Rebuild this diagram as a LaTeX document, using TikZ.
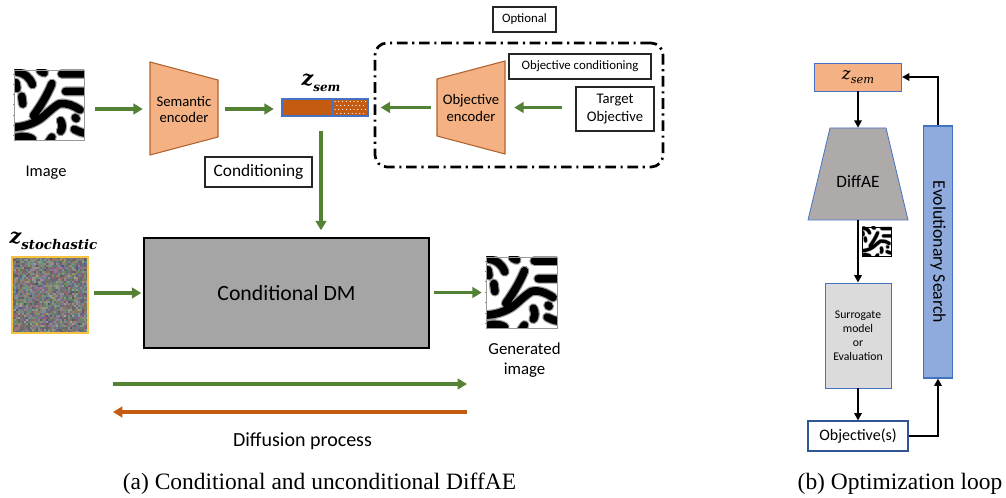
\documentclass[tikz,border=0pt]{standalone}
\usepackage{fontspec}
\setmainfont{Carlito}
\newfontfamily\capfont{Liberation Serif}
\newfontfamily\zfont{DejaVu Serif}
\usetikzlibrary{arrows.meta,calc}
\newdimen\pxu \pxu=0.75pt
\newcommand\fsz[2]{\fontsize{#1}{#2}\selectfont}
\newcommand\zbold[3]{{\zfont\bfseries\itshape\fontsize{#1}{#1}\selectfont z\raisebox{-0.28em}{\fontsize{#2}{#2}\selectfont #3}}}
\newcommand\zplain[3]{{\zfont\itshape\fontsize{#1}{#1}\selectfont z\raisebox{-0.28em}{\fontsize{#2}{#2}\selectfont #3}}}
\definecolor{grn}{HTML}{548235}
\definecolor{org}{HTML}{C55A11}
\definecolor{peach}{HTML}{F4B183}
\definecolor{encbd}{HTML}{B0622E}
\definecolor{dmgray}{HTML}{A5A5A5}
\definecolor{degray}{HTML}{AEAAAA}
\definecolor{sgray}{HTML}{DBDBDB}
\definecolor{evo}{HTML}{8FAADC}
\definecolor{bluebd}{HTML}{4472C4}
\definecolor{navy}{HTML}{2F5597}
\definecolor{noiseb}{HTML}{F5C242}

% Turing-like pattern, #1,#2 top-left, #3 size
\newcommand\turpaths{%
  (3,2) .. controls (10,3) and (16,7) .. (19,15)
  (27,1) -- (31,3)
  (49,4) -- (75,4)
  (2,13) -- (3,19)
  (39,14) .. controls (34,26) and (28,36) .. (20,47)
  (53,22) -- (75,22)
  (8,27) -- (9,35)
  (-3,59) .. controls (8,59) and (18,56) .. (26,51) .. controls (32,47) and (38,40) .. (46,35) .. controls (54,33) and (62,37) .. (68,41)
  (35,75) -- (39,69)
  (62,61) .. controls (66,63) and (70,65) .. (75,65)
  (-3,71) .. controls (5,68) and (12,67) .. (19,71)
  (63,49) -- (64,50)
  (48,52) .. controls (50,56) and (50,60) .. (48,63)}
\newcommand\turing[3]{%
  \pgfmathsetmacro\tlw{#3/72*7.8*0.75}%
  \pgfmathsetmacro\tlb{#3/72*10.2*0.75}%
  \begin{scope}[shift={(#1,#2)}, scale=#3/72]
    \fill[white] (0,0) rectangle (72,72);
    \begin{scope}
      \clip (0,0) rectangle (72,72);
      \draw[line width=\tlb pt, line cap=round, line join=round, black!40] \turpaths;
      \draw[line width=\tlw pt, line cap=round, line join=round, black] \turpaths;
    \end{scope}
  \end{scope}}
\newcommand\ticks[3]{%
  \begin{scope}[shift={(#1,#2)}, scale=#3/72]
    \draw[black!40, line width=0.3pt] (0,0) rectangle (72,72);
    \foreach \k in {0,...,6} {
      \draw[black!45, line width=0.3pt] (0,4+\k*10.5) -- (-1.5,4+\k*10.5);
      \draw[black!45, line width=0.3pt] (\k*11.5,72) -- (\k*11.5,73.5);
    }
  \end{scope}}

\begin{document}
\begin{tikzpicture}[x=0.75pt,y=-0.75pt,
  lbl/.style={inner sep=0pt, text=black, align=center},
  obox/.style={draw=black!85, line width=1.1pt, fill=white, inner sep=0pt, align=center},
  garrow/.style={draw=grn, line width=2.3pt, -{Triangle[length=7pt,width=8pt]}},
  oarrow/.style={draw=org, line width=2.3pt, -{Triangle[length=7pt,width=8pt]}},
  karrow/.style={draw=black, line width=1.5pt, -{Triangle[length=5.5pt,width=5.5pt]}},
  sizedbox/.style 2 args={minimum width=#1\pxu, minimum height=#2\pxu, inner sep=0pt},
]
\useasboundingbox (0,0) rectangle (1006,498);

% ---------------- panel (a) ----------------
% input image
\turing{14}{70}{70}
\ticks{14}{70}{70}
\node[sizedbox={70}{70}] (img1) at (49,105) {};
\node[lbl, font=\fsz{12.3}{14}] (imglbl) at (46,173) {Image};

% semantic encoder
\filldraw[fill=peach, draw=encbd, line width=0.8pt] (150,62) -- (218,80) -- (218,137) -- (150,155) -- cycle;
\node[lbl, sizedbox={68}{93}, font=\fsz{11}{12}] (se) at (184,109) {Semantic\\encoder};

% z_sem bar
\fill[org] (282,99) rectangle (333,116);
\fill[org] (333,99) rectangle (368,116);
\foreach \i in {0,...,8} \foreach \j in {0,...,3} {
  \pgfmathsetmacro\dotoff{mod(\j,2)*2}
  \fill[white] (335+\i*3.8+\dotoff,101.5+\j*4) circle (0.6);
}
\draw[bluebd, line width=0.8pt] (282,99) rectangle (368,116) (333,99) -- (333,116);
\node[sizedbox={86}{17}] (zsem) at (325,107.5) {};
\node[lbl] (zsemlbl) at (321,83) {\zbold{15.5}{9}{sem}};

% arrows into / out of encoder
\draw[garrow] ([xshift=11\pxu]img1.east |- se.west) -- ([xshift=-7\pxu]se.west);
\draw[garrow] ([xshift=7\pxu]se.east) -- ([xshift=-8\pxu]se.east -| zsem.west);

% conditioning label
\node[obox, sizedbox={107}{30}, font=\fsz{13}{15}] (cond) at (258.5,172) {Conditioning};

% optional block
\node[obox, sizedbox={63}{25}, font=\fsz{9.6}{11}] (opt) at (524.5,19.5) {Optional};
\node[draw=black, line width=2pt, dash pattern=on 8pt off 3.5pt on 1.6pt off 3.5pt,
      rounded corners=12\pxu, sizedbox={288}{124}] (optbox) at (519,105) {};
\node[obox, sizedbox={142}{25}, font=\fsz{9.6}{11}] (objcond) at (580,66.5) {Objective conditioning};
\node[obox, sizedbox={78}{44}, font=\fsz{11}{13.5}] (tobj) at (615,109) {Target\\Objective};
\filldraw[fill=peach, draw=encbd, line width=0.8pt] (437,79) -- (505,61) -- (505,154) -- (437,136) -- cycle;
\node[lbl, sizedbox={68}{93}, font=\fsz{11}{12.8}] (oe) at (471,107.5) {Objective\\encoder};
\draw[garrow] ([xshift=-13\pxu]tobj.west |- oe.east) -- ([xshift=9\pxu]oe.east);
\draw[garrow] ([xshift=-6\pxu]oe.west) -- ([xshift=7\pxu]oe.west -| optbox.west);

% noise
\pgfmathsetseed{11}
\foreach \i in {0,...,37} \foreach \j in {0,...,37} {
  \pgfmathsetmacro\gb{0.42+0.12*rnd}
  \pgfmathsetmacro\rr{min(1,max(0,\gb+0.26*(rnd-0.5)))}
  \pgfmathsetmacro\gg{min(1,max(0,\gb+0.24*(rnd-0.5)))}
  \pgfmathsetmacro\bb{min(1,max(0,\gb+0.26*(rnd-0.5)))}
  \definecolor{nzc}{rgb}{\rr,\gg,\bb}
  \fill[nzc] (12+\i*2,257+\j*2) rectangle ++(2.05,2.05);
}
\draw[noiseb, line width=1.3pt] (12,257) rectangle (88,333);
\node[sizedbox={76}{76}] (noise) at (50,295) {};
\node[lbl] (zstlbl) at (53.5,241) {\zbold{15.5}{10}{stochastic}};

% conditional DM
\node[draw=black, line width=1.1pt, fill=dmgray, sizedbox={285}{110}, font=\fsz{16.3}{18}] (dm) at (286.5,293) {Conditional DM};

% generated image
\turing{486}{257}{71}
\ticks{486}{257}{71}
\node[sizedbox={71}{71}] (gen) at (521.5,292.5) {};
\node[lbl, font=\fsz{12.6}{15.5}] (genlbl) at (524.5,360) {Generated\\image};

% vertical conditioning arrow
\coordinate (vtop) at (321,131);
\draw[garrow] (vtop) -- ([yshift=7\pxu]vtop |- dm.north);
\draw[garrow] ([xshift=6\pxu]noise.east |- dm.west) -- ([xshift=-2\pxu]dm.west);
\draw[garrow] ([xshift=4\pxu]dm.east |- gen.west) -- ([xshift=-4\pxu]gen.west);

% diffusion process arrows
\coordinate (fA) at (113,384);
\coordinate (fB) at (467,384);
\coordinate (bA) at (467,412);
\coordinate (bB) at (113,412);
\draw[garrow] (fA) -- (fB);
\draw[oarrow] (bA) -- (bB);
\node[lbl, font=\fsz{15}{17}] (difflbl) at (302.5,441) {Diffusion process};

\node[lbl, font=\capfont\fsz{17.6}{20}] (capa) at (319.5,484) {(a) Conditional and unconditional DiffAE};

% ---------------- panel (b) ----------------
\node[draw=bluebd, line width=0.7pt, fill=peach, sizedbox={87}{28}] (zr) at (858,77) {\zplain{12.5}{8.5}{sem}};
\filldraw[fill=degray, draw=bluebd, line width=0.6pt] (830,128) -- (886,128) -- (908,220) -- (808,220) -- cycle;
\node[sizedbox={100}{92}] (de) at (858,174) {};
\node[lbl, font=\fsz{13}{15}] (delbl) at (858,182) {DiffAE};
\turing{862}{227}{29}
\draw[black, line width=0.6pt] (862,227) rectangle (891,256);
\node[draw=bluebd, line width=0.7pt, fill=sgray, sizedbox={66}{105}, align=center, font=\fsz{8.8}{10.6}] (sur) at (858,335.5) {Surrogate\\model\\or\\Evaluation};
\node[draw=navy, line width=0.8pt, fill=white, sizedbox={100}{30}, font=\fsz{12}{14}] (obj) at (858,436) {Objective(s)};
\node[draw=bluebd, line width=0.8pt, fill=evo, rotate=-90, sizedbox={252}{29}, font=\fsz{13.3}{15}] (evo) at (938,252) {Evolutionary Search};

\draw[karrow] (zr.south) -- (de.north);
\draw[karrow] (de.south) -- (sur.north);
\draw[karrow] (sur.south) -- (obj.north);
\draw[karrow] (obj.east) -| (evo.east);
\draw[karrow] (evo.west) |- (zr.east);

\node[lbl, font=\capfont\fsz{17.6}{20}] (capb) at (900,484) {(b) Optimization loop};
\end{tikzpicture}
\end{document}
